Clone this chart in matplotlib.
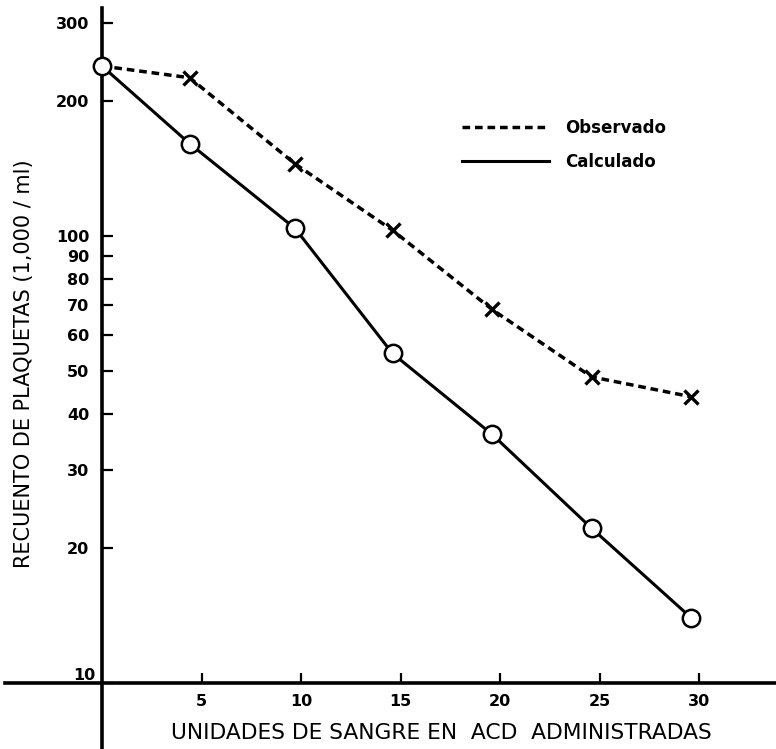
import matplotlib
matplotlib.use("Agg")
import matplotlib.pyplot as plt
import numpy as np

# Units of ACD blood given
unidades = [0, 4.4, 9.7, 14.6, 19.6, 24.6, 29.6]
# Platelet counts (thousands per ml)
observado = [240, 226, 145, 103, 68.5, 48.4, 43.7]
calculado = [240, 161, 104, 54.6, 36.0, 22.2, 14.0]

x_ticks = [5, 10, 15, 20, 25, 30]
x_ticklabels = ["5", "10", "15", "20", "25", "30"]
y_ticks = [10, 20, 30, 40, 50, 60, 70, 80, 90, 100, 200, 300]
y_ticklabels = ["", "20", "30", "40", "50", "60", "70", "80", "90", "100", "200", "300"]

W, H = 776, 749
fig = plt.figure(figsize=(W / 100, H / 100), dpi=100)
ax = fig.add_axes([0, 0, 1, 1])
ax.set_facecolor("white")

# pixel layout of the hand-drawn axes
x0_px, px_per_unit = 102, 19.9
y10_px, px_per_decade = 683, 447
ax.set_xlim(-x0_px / px_per_unit, (W - x0_px) / px_per_unit)
ax.set_yscale("log")
ylo = 10 ** (1 - (H - y10_px) / px_per_decade)
yhi = 10 ** (1 + y10_px / px_per_decade)
ax.set_ylim(ylo, yhi)

for s in ("top", "right"):
    ax.spines[s].set_visible(False)
ax.spines["left"].set_position(("data", 0))
ax.spines["bottom"].set_position(("data", 10))
ax.spines["left"].set_bounds(ylo, 10 ** (1 + (y10_px - 8) / px_per_decade))
ax.spines["bottom"].set_bounds((5 - x0_px) / px_per_unit, (W - x0_px) / px_per_unit)
ax.spines["left"].set_linewidth(2.6)
ax.spines["bottom"].set_linewidth(2.6)

tick_font = dict(family="DejaVu Sans", weight="bold", size=11.5)
ax.set_yticks(y_ticks)
ax.set_yticklabels(y_ticklabels, fontdict=tick_font)
ax.yaxis.set_minor_locator(matplotlib.ticker.NullLocator())
ax.set_xticks(x_ticks)
ax.set_xticklabels(x_ticklabels, fontdict=tick_font)
ax.tick_params(axis="y", direction="in", length=8, width=1.6, pad=9)
ax.tick_params(axis="x", direction="in", length=7, width=1.6, pad=8)
ax.text(-0.35, 10, "10", ha="right", va="bottom", fontdict=tick_font)

lw = 2.5
l_obs, = ax.plot(unidades, observado, color="black", lw=lw,
                 dashes=(2.2, 1.4), label="Observado", zorder=3)
l_cal, = ax.plot(unidades, calculado, color="black", lw=lw - 0.3,
                 label="Calculado", zorder=3)
ax.plot(unidades[1:], observado[1:], ls="none", marker="x", ms=10,
        mew=2.4, color="black", zorder=4)
ax.plot(unidades, calculado, ls="none", marker="o", ms=12.5, mew=1.8,
        mfc="white", mec="black", zorder=5)

leg = ax.legend(handles=[l_obs, l_cal], loc="upper left",
                bbox_to_anchor=(462 / W, 1 - 119 / H), bbox_transform=fig.transFigure,
                frameon=False, borderpad=0, borderaxespad=0,
                handlelength=5.2, handletextpad=1.0, labelspacing=0.95,
                prop=dict(family="DejaVu Sans", weight="bold", size=12))

fig.text(441 / W, 1 - 733 / H, "UNIDADES DE SANGRE EN  ACD  ADMINISTRADAS",
         ha="center", va="center", family="DejaVu Sans", size=15.7)
fig.text(24.5 / W, 1 - 364 / H, "RECUENTO DE PLAQUETAS (1,000 / ml)",
         ha="center", va="center", rotation=90, family="DejaVu Sans", size=15)

fig.savefig("out.png", dpi=100, facecolor="white")
